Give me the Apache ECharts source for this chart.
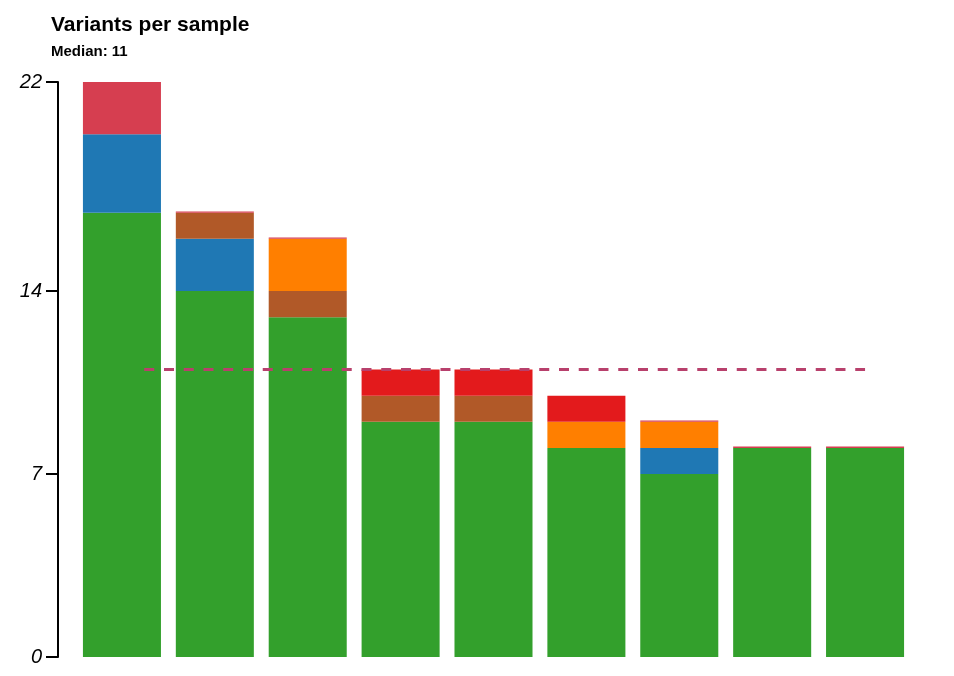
<!DOCTYPE html>
<html><head><meta charset="utf-8">
<script src="https://cdn.jsdelivr.net/npm/echarts@6/dist/echarts.min.js"></script>
<style>html,body{margin:0;padding:0;background:#fff}#c{width:954px;height:676px}</style>
</head><body><div id="c"></div>
<script>
const samples = ['S1','S2','S3','S4','S5','S6','S7','S8','S9'];
const green  = [17, 14, 13, 9, 9, 8, 7, 8, 8];
const blue   = [3, 2, 0, 0, 0, 0, 1, 0, 0];
const brown  = [0, 1, 1, 1, 1, 0, 0, 0, 0];
const orange = [0, 0, 2, 0, 0, 1, 1, 0, 0];
const red    = [0, 0, 0, 1, 1, 1, 0, 0, 0];
const crimson= [2, 0.05, 0.05, 0, 0, 0, 0.05, 0.05, 0.05];
const yTicks = [0, 7, 14, 22];
const median = 11;
const medianSpan = [0.74, 8.5];

const colors = {green:'#33a02c', blue:'#1f78b4', brown:'#b15928', orange:'#ff7f00', red:'#e31a1c', crimson:'#d63e50'};
const stackSeries = [['green',green],['blue',blue],['brown',brown],['orange',orange],['red',red],['crimson',crimson]].map(([n,d])=>({
  name:n, type:'bar', stack:'v', data:d, barCategoryGap:'16%', xAxisIndex:0, yAxisIndex:0,
  itemStyle:{color:colors[n]}, emphasis:{disabled:true}
}));

const chart = echarts.init(document.getElementById('c'));
chart.setOption({
  animation:false,
  title:{text:'Variants per sample', subtext:'Median: ' + median, left:46, top:10,
    textStyle:{fontFamily:'Liberation Sans', fontWeight:'bold', fontSize:21, color:'#000'},
    subtextStyle:{fontFamily:'Liberation Sans', fontWeight:'bold', fontSize:15, color:'#000'},
    itemGap:8},
  grid:[
    {left:75.5, right:42.5, top:82, bottom:19},
    {left:58, right:42.5, top:82, bottom:19}
  ],
  xAxis:[
    {type:'category', data:samples, show:false, gridIndex:0},
    {type:'value', min:0, max:samples.length, show:false, gridIndex:0},
    {type:'value', min:0, max:1, show:false, gridIndex:1}
  ],
  yAxis:[
    {type:'value', min:0, max:22, show:false, gridIndex:0},
    {type:'value', min:0, max:22, gridIndex:1, splitLine:{show:false},
      axisLine:{show:true, lineStyle:{color:'#000', width:2}},
      axisTick:{show:true, length:12, lineStyle:{color:'#000', width:2}, customValues:yTicks},
      axisLabel:{customValues:yTicks, fontStyle:'italic', fontSize:20, color:'#000', margin:16, fontFamily:'Liberation Sans', padding:[7,0,0,0]}
    }
  ],
  series: stackSeries.concat([{
    type:'line', xAxisIndex:1, yAxisIndex:0, data:[[medianSpan[0],median],[medianSpan[1],median]], symbol:'none',
    lineStyle:{color:'#b8406c', width:3, type:[10,9.75]}, z:10, silent:true
  }])
});
</script></body></html>
